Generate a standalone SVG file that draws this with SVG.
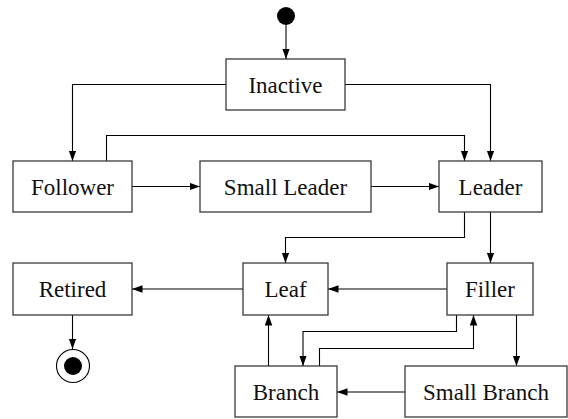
<svg xmlns="http://www.w3.org/2000/svg" width="568" height="419" viewBox="0 0 568 419">
  <style>
    .box { fill: #ffffff; stroke: #3a3a3a; stroke-width: 1.3; }
    .lbl { font-family: 'Liberation Serif', 'Times New Roman', Tinos, 'Noto Serif', 'DejaVu Serif', serif; font-size: 23px; fill: #111; text-anchor: middle; }
    .edge { fill: none; stroke: #000; stroke-width: 1.1; marker-end: url(#arrow); }
  </style>
  <defs>
    <marker id="arrow" markerUnits="userSpaceOnUse" markerWidth="11" markerHeight="8" refX="10.5" refY="3.75" orient="auto">
      <path d="M0,0 L10.5,3.75 L0,7.5 z" fill="#000"/>
    </marker>
  </defs>

  <!-- transitions -->
  <g id="connectors">
    <path class="edge" d="M286,25 V59"/>
    <path class="edge" d="M226,84.5 H72.5 V161"/>
    <path class="edge" d="M345,84.5 H490.5 V161"/>
    <path class="edge" d="M106.5,161 V135.5 H464.5 V161"/>
    <path class="edge" d="M132,186.5 H200"/>
    <path class="edge" d="M371,186.5 H439"/>
    <path class="edge" d="M464.5,212 V237.5 H285.5 V263"/>
    <path class="edge" d="M490.5,212 V263"/>
    <path class="edge" d="M447,289 H328"/>
    <path class="edge" d="M243,289 H132"/>
    <path class="edge" d="M72.5,315 V349"/>
    <path class="edge" d="M268.5,366 V315"/>
    <path class="edge" d="M456.5,315 V331.5 H303 V366"/>
    <path class="edge" d="M319.5,366 V348.5 H473.5 V315"/>
    <path class="edge" d="M516.5,315 V366"/>
    <path class="edge" d="M405,392 H337"/>
  </g>

  <!-- initial pseudo-state -->
  <g id="start">
    <circle cx="286" cy="16" r="9" fill="#000"/>
  </g>

  <g id="inactive">
    <rect class="box" x="226" y="59" width="119" height="51"/>
    <text class="lbl" x="285.5" y="92.5">Inactive</text>
  </g>

  <g id="follower">
    <rect class="box" x="13" y="161" width="119" height="51"/>
    <text class="lbl" x="72.5" y="194.5">Follower</text>
  </g>

  <g id="small-leader">
    <rect class="box" x="200" y="161" width="171" height="51"/>
    <text class="lbl" x="285.5" y="194.5">Small Leader</text>
  </g>

  <g id="leader">
    <rect class="box" x="439" y="161" width="103" height="51"/>
    <text class="lbl" x="490.5" y="194.5">Leader</text>
  </g>

  <g id="retired">
    <rect class="box" x="13" y="263" width="119" height="52"/>
    <text class="lbl" x="72.5" y="297">Retired</text>
  </g>

  <g id="leaf">
    <rect class="box" x="243" y="263" width="85" height="52"/>
    <text class="lbl" x="285.5" y="297">Leaf</text>
  </g>

  <g id="filler">
    <rect class="box" x="447" y="263" width="86" height="52"/>
    <text class="lbl" x="490" y="297">Filler</text>
  </g>

  <g id="branch">
    <rect class="box" x="235" y="366" width="102" height="51"/>
    <text class="lbl" x="286" y="399.5">Branch</text>
  </g>

  <g id="small-branch">
    <rect class="box" x="405" y="366" width="162" height="51"/>
    <text class="lbl" x="486" y="399.5">Small Branch</text>
  </g>

  <!-- final pseudo-state -->
  <g id="end">
    <circle cx="73" cy="366" r="16.5" fill="#fff" stroke="#000" stroke-width="1.1"/>
    <circle cx="73" cy="366" r="9" fill="#000"/>
  </g>
</svg>
